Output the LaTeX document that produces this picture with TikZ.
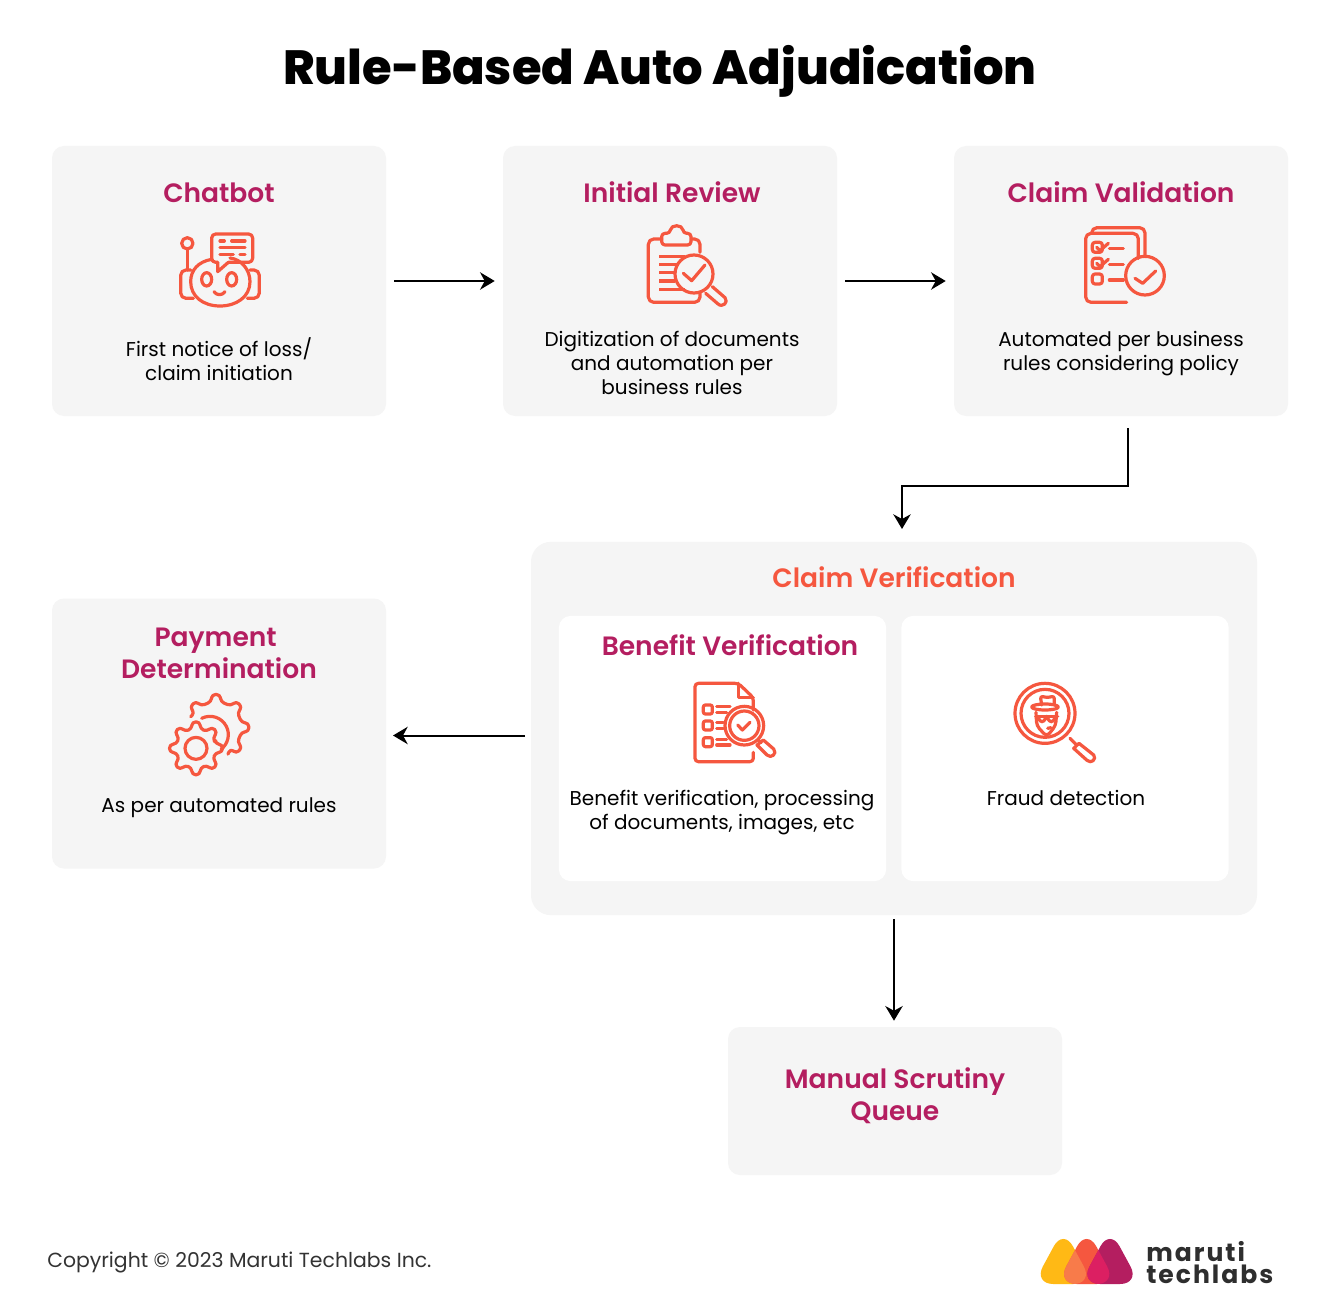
\documentclass[tikz,border=0pt]{standalone}
\usepackage{fontspec}
\setmainfont{Poppins}
\newfontfamily\semibold{Poppins SemiBold}
\newfontfamily\extrabold{Poppins ExtraBold}
\usepackage{tikz}
\usetikzlibrary{arrows.meta}
\definecolor{cardgray}{HTML}{F5F5F5}
\definecolor{headred}{HTML}{B41E60}
\definecolor{iconred}{HTML}{F5573F}
\definecolor{logoyellow}{HTML}{FFB915}
\definecolor{logopeach}{HTML}{F87B4A}
\definecolor{logopink}{HTML}{DC1F62}
\definecolor{logotext}{HTML}{2E2E2E}
\tikzset{
card/.style={fill=cardgray,rounded corners=9pt,inner sep=0pt,minimum width=250.5pt,minimum height=202.5pt},
inbox/.style={fill=white,rounded corners=9pt,inner sep=0pt,minimum width=245.5pt,minimum height=199pt},
head/.style={text=headred,align=center,font=\semibold\fontsize{19.9}{24}\selectfont},
body/.style={text=black,align=center,font=\fontsize{15}{18}\selectfont},
flow/.style={draw=black,line width=1.5pt,-{Stealth[length=11pt,width=13pt,inset=3.5pt]}},
icon/.style={draw=iconred,line width=2.4pt,line cap=round,line join=round}
}
\begin{document}
\begin{tikzpicture}[x=0.75pt,y=-0.75pt]
\useasboundingbox (0,0) rectangle (1320,1312);
\fill[white] (0,0) rectangle (1320,1312);

\node[font=\extrabold\fontsize{36}{40}\selectfont] (title) at (660,71) {Rule-Based Auto Adjudication};

\node[card] (chatbot) at (219,281) {};
\node[card] (review) at (670,281) {};
\node[card] (validation) at (1121,281) {};
\node[card] (payment) at (219,733.5) {};
\node[card,minimum width=544.5pt,minimum height=280pt,rounded corners=15pt] (verification) at (894,728.5) {};
\node[inbox] (benefit) at (722.5,748.5) {};
\node[inbox] (fraud) at (1065,748.5) {};
\node[card,minimum height=111pt] (scrutiny) at (895,1101) {};

\node[head] (chatbothead) at (219,193) {Chatbot};
\node[head] (reviewhead) at (672,192) {Initial Review};
\node[head] (validationhead) at (1121,192) {Claim Validation};
\node[head,text=iconred] (verificationhead) at (894,577) {Claim Verification};
\node[head] (benefithead) at (730,645) {Benefit Verification};
\node[head] (paymenthead) at (219,653) {Payment\hspace*{5pt}\\Determination};
\node[head] (scrutinyhead) at (895,1096) {Manual Scrutiny\\Queue};

\node[body] (chatbottext) at (219,359) {First notice of loss/\\claim initiation};
\node[body] (reviewtext) at (672,363) {Digitization of documents\\and automation per\\business rules};
\node[body] (validationtext) at (1121,354) {Automated per business\\rules considering policy};
\node[body] (paymenttext) at (219,808) {As per automated rules};
\node[body] (benefittext) at (722,813) {Benefit verification, processing\\of documents, images, etc};
\node[body] (fraudtext) at (1066,798) {Fraud detection};
\node[body,text=black!80,anchor=west,inner sep=0pt,font=\fontsize{15.3}{18}\selectfont] (copyright) at (47,1262) {Copyright © 2023 Maruti Techlabs Inc.};

\coordinate (valout) at (1128,428);
\coordinate (verin) at (902,529);
\coordinate (verout) at (525,735.5);
\coordinate (payin) at (393,735.5);
\draw[flow,shorten <=6pt,shorten >=6pt] (chatbot) -- (review);
\draw[flow,shorten <=6pt,shorten >=6pt] (review) -- (validation);
\draw[flow] (valout) -- (1128,485.5) -- (902,485.5) -- (verin);
\draw[flow] (verout) -- (payin);
\draw[flow,shorten <=3pt,shorten >=4.5pt] (verification) -- (verification.south |- scrutiny.north);

\begin{scope}[shift={(170,220)},scale=1/3]
\draw[icon] (52,70) circle (17);
\draw[icon] (52,87) -- (52,150);
\draw[icon] (125,118) .. controls (85,125) and (62,150) .. (62,185) .. controls (62,230) and (100,258) .. (150,258) .. controls (200,258) and (240,230) .. (240,185) .. controls (240,150) and (215,118) .. (180,114);
\draw[icon,rounded corners=4pt] (62,150) -- (32,150) -- (32,235) -- (70,235);
\draw[icon,rounded corners=4pt] (240,150) -- (268,150) -- (268,235) -- (232,235);
\draw[icon] (143,127) -- (143,155) -- (175,127);
\draw[icon,rounded corners=3pt] (175,127) -- (248,127) -- (248,42) -- (125,42) -- (125,127) -- (143,127);
\draw[icon] (110,178) ellipse (15 and 20);
\draw[icon] (185,178) ellipse (15 and 20);
\draw[icon] (132,215) .. controls (140,227) and (157,227) .. (165,215);
\draw[icon] (150,63) -- (163,63) (185,63) -- (225,63) (150,83) -- (225,83) (150,103) -- (190,103) (210,103) -- (225,103);
\end{scope}

\begin{scope}[shift={(635,215)},scale=1/3]
\draw[icon,rounded corners=4pt] (80,72) -- (40,72) -- (40,262) -- (195,262) -- (195,235);
\draw[icon,rounded corners=4pt] (170,72) -- (195,72) -- (195,112);
\draw[icon,rounded corners=2.5pt] (80,55) -- (105,55) .. controls (108,28) and (142,28) .. (145,55) -- (168,55) -- (168,90) -- (80,90) -- cycle;
\foreach \ly/\lx in {125/150,148/125,173/120,198/120,224/150}
  \draw[icon,line cap=butt] (72,\ly) -- (\lx,\ly);
\draw[icon] (177,177) circle (57);
\draw[icon] (145,175) -- (170,197) -- (210,150);
\draw[icon] (232,215) -- (270,248) .. controls (282,262) and (262,280) .. (248,266) -- (212,235);
\end{scope}

\begin{scope}[shift={(1075,215)},scale=1/3]
\draw[icon,rounded corners=4pt] (50,52) -- (50,38) -- (210,38) -- (210,125);
\draw[icon,rounded corners=4pt] (190,130) -- (190,55) -- (32,55) -- (32,262) -- (155,262);
\foreach \ly in {82,130,177}
  \draw[icon,rounded corners=2pt] (52,\ly) rectangle (82,\ly+30);
\foreach \ly in {82,130}
  \draw[icon] (65,\ly+15) -- (75,\ly+25) -- (100,\ly+3);
\foreach \ly in {100,148,195}
  \draw[icon] (103,\ly) -- (145,\ly);
\draw[icon] (210,182) circle (58);
\draw[icon] (180,190) -- (203,205) -- (242,168);
\end{scope}

\begin{scope}[shift={(160,685)},scale=1/3]
\begin{scope}[shift={(108,190)}]
\draw[icon,rounded corners=2.5pt] (-13:60)
  \foreach \ga in {0,45,...,315} { -- (\ga-13:60) -- (\ga-8:80) -- (\ga+8:80) -- (\ga+13:60) } -- cycle;
\draw[icon] (0,0) circle (33);
\end{scope}
\begin{scope}[shift={(168,127)}]
\draw[icon,rounded corners=2.5pt] (-157:82)
  \foreach \ga in {-135,-90,-45,0,45} { -- (\ga-11:78) -- (\ga-7:99) -- (\ga+7:99) -- (\ga+11:78) } -- (66:88);
\end{scope}
\draw[icon] (125,100) arc (-117:53:55);
\end{scope}

\begin{scope}[shift={(685,675)},scale=1/3]
\draw[icon,rounded corners=2.5pt] (205,105) -- (205,68) -- (160,25) -- (30,25) -- (30,260) -- (205,260) -- (205,232);
\draw[icon] (160,25) -- (160,68) -- (205,68);
\foreach \ly in {90,138,188}
  \draw[icon,rounded corners=1.5pt] (55,\ly) rectangle (82,\ly+27);
\draw[icon] (95,95) -- (135,95) (95,112) -- (125,112) (95,143) -- (115,143) (95,160) -- (115,160) (95,193) -- (125,193) (95,210) -- (135,210);
\draw[icon] (178,152) circle (58);
\draw[icon] (178,152) circle (44);
\draw[icon] (158,150) -- (172,165) -- (195,142);
\draw[icon] (220,195) -- (228,203);
\draw[icon] (235,195) -- (266,222) .. controls (278,236) and (258,252) .. (246,240) -- (216,210) -- cycle;
\end{scope}

\begin{scope}[shift={(1005,675)},scale=1/3]
\draw[icon] (120,115) circle (90);
\draw[icon] (120,115) circle (72);
\draw[icon,rounded corners=2pt] (110,90) -- (106,63) -- (127,68) -- (148,63) -- (148,90);
\draw[icon] (120,96) ellipse (40 and 9);
\draw[icon,rounded corners=3pt] (93,112) -- (95,152) -- (125,185) -- (152,152) -- (155,112);
\draw[icon] (92,124) -- (158,124);
\draw[icon,rounded corners=2pt] (100,124) -- (104,140) -- (118,140) -- (123,124) (127,124) -- (132,140) -- (146,140) -- (150,124);
\draw[icon] (128,160) -- (138,158);
\draw[icon] (195,190) -- (212,207);
\draw[icon] (222,205) -- (266,240) .. controls (276,252) and (258,268) .. (246,256) -- (206,220) -- cycle;
\end{scope}

\begin{scope}[shift={(1030,1230)},scale=1/3]
\fill[logoyellow,rounded corners=15pt] (100,-4) -- (190,162) -- (10,162) -- cycle;
\fill[iconred,rounded corners=15pt] (170,-4) -- (260,162) -- (80,162) -- cycle;
\fill[headred,rounded corners=15pt] (240,-4) -- (330,162) -- (150,162) -- cycle;
\begin{scope}
\clip[rounded corners=15pt] (100,-4) -- (190,162) -- (10,162) -- cycle;
\fill[logopeach,rounded corners=15pt] (170,-4) -- (260,162) -- (80,162) -- cycle;
\end{scope}
\begin{scope}
\clip[rounded corners=15pt] (170,-4) -- (260,162) -- (80,162) -- cycle;
\fill[logopink,rounded corners=15pt] (240,-4) -- (330,162) -- (150,162) -- cycle;
\end{scope}
\end{scope}
\node[anchor=west,text=logotext,inner sep=0pt,align=left,font=\bfseries\fontsize{18.8}{16.5}\selectfont\addfontfeatures{LetterSpace=8}] (logoname) at (1146,1263) {maruti\\techlabs};
\end{tikzpicture}
\end{document}
